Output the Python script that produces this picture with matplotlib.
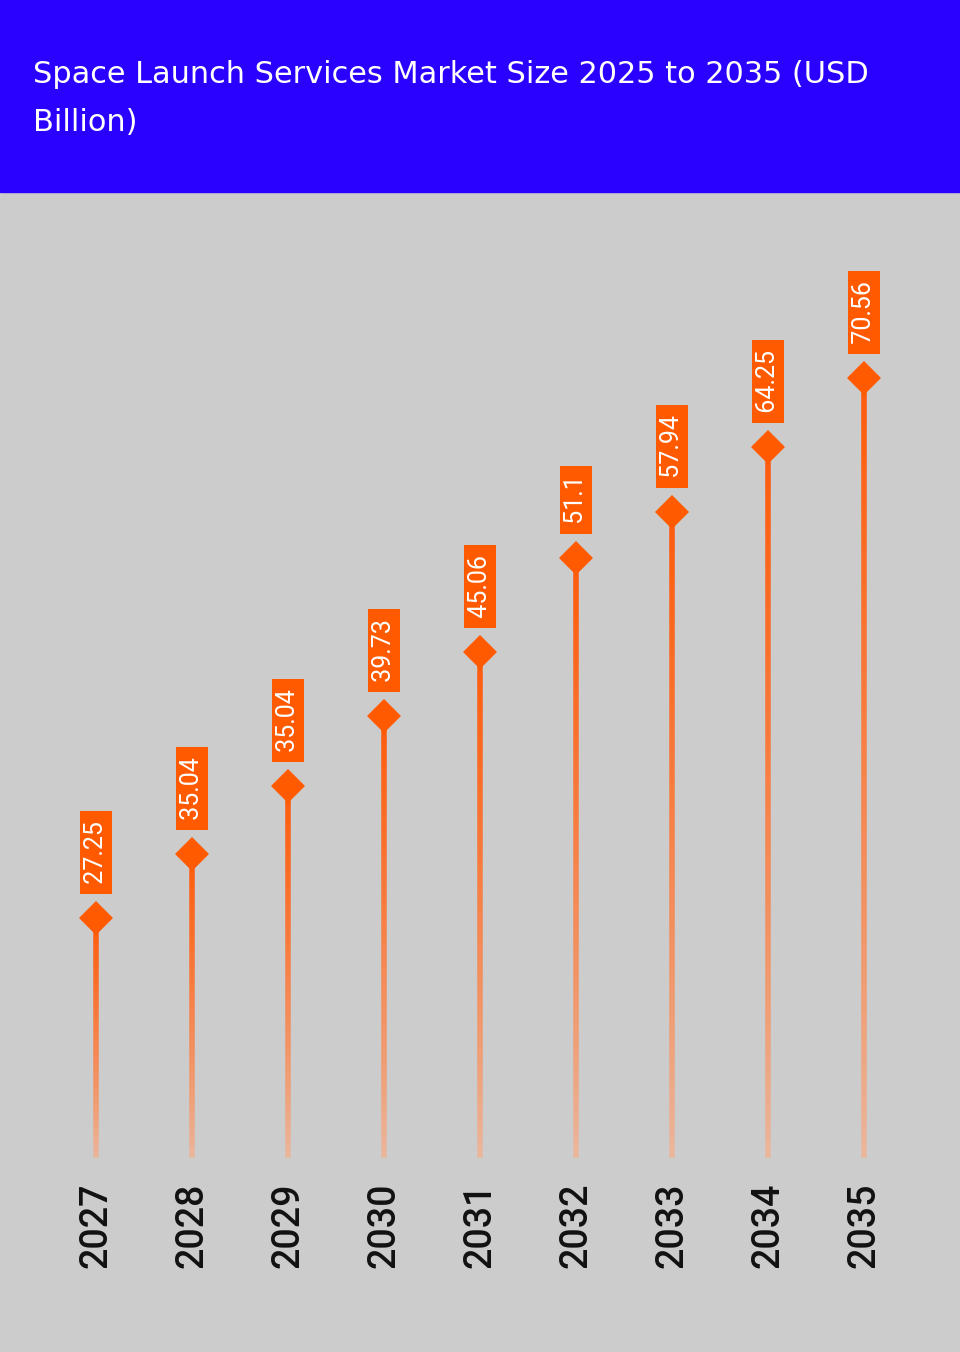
import numpy as np
import matplotlib.pyplot as plt
from matplotlib.collections import LineCollection
from matplotlib.colors import to_rgb
from matplotlib.patches import Rectangle

title_lines = ["Space Launch Services Market Size 2025 to 2035 (USD", "Billion)"]
years = ["2027", "2028", "2029", "2030", "2031", "2032", "2033", "2034", "2035"]
# stem heights (marker positions)
heights = [27.25, 32.38, 37.84, 43.45, 48.58, 56.12, 59.81, 65.03, 70.56]
# label texts as printed on the chart
labels = ["27.25", "35.04", "35.04", "39.73", "45.06", "51.1", "57.94", "64.25", "70.56"]
base = 8.0

W, H = 960, 1352
header_h = 192
bg = "#cccccc"
blue = "#2a00ff"
orange = "#ff5a00"
top_col = np.array(to_rgb("#ff5a0a"))
bot_col = np.array(to_rgb("#e9b9a1"))

plt.rcParams['font.family'] = ['Roboto', 'DejaVu Sans']

fig = plt.figure(figsize=(W / 100, H / 100), dpi=100)
fig.patch.set_facecolor(bg)
fig.patches.append(Rectangle((0, 1 - header_h / H), 1, header_h / H,
                             transform=fig.transFigure, color=blue, zorder=0))

fig.text(33 / W, 1 - 83 / H, title_lines[0], color="white", fontsize=21.9,
         va="baseline", ha="left", family=["DejaVu Sans"])
fig.text(33 / W, 1 - 131 / H, title_lines[1], color="white", fontsize=21.9,
         va="baseline", ha="left", family=["DejaVu Sans"])

ax = fig.add_axes([0, 0, 1, (H - header_h) / H])
ax.set_facecolor(bg)
ax.set_xlim(-1, 9)
ax.set_ylim(-7.555, 85.48)
ax.axis("off")

x = np.arange(len(years))
segs, cols = [], []
n = 80
for xi, h in zip(x, heights):
    ys = np.linspace(base, h, n + 1)
    for k in range(n):
        segs.append([(xi, ys[k]), (xi, ys[k + 1])])
        t = (k + 0.5) / n
        cols.append(bot_col + (top_col - bot_col) * t ** 0.8)
lc = LineCollection(segs, colors=cols, linewidths=4, capstyle="butt", zorder=2)
ax.add_collection(lc)

ax.plot(x, heights, linestyle="none", marker="D", markersize=17,
        color=orange, markeredgewidth=0, zorder=3)

for xi, h, lab in zip(x, heights, labels):
    ax.annotate(" " + lab + " ", xy=(xi, h), xytext=(0, 20), textcoords="offset points",
                rotation=90, rotation_mode="anchor", ha="left", va="center",
                color="white", fontsize=18,
                bbox=dict(boxstyle="square,pad=0.15", fc=orange, ec="none"), zorder=4)

for xi, yr in zip(x, years):
    ax.annotate(yr, xy=(xi, base), xytext=(0, -79), textcoords="offset points",
                rotation=90, rotation_mode="anchor", ha="left", va="center",
                color="#111111", fontsize=27, fontweight="medium")

fig.savefig("out.png", dpi=100, facecolor=bg)
